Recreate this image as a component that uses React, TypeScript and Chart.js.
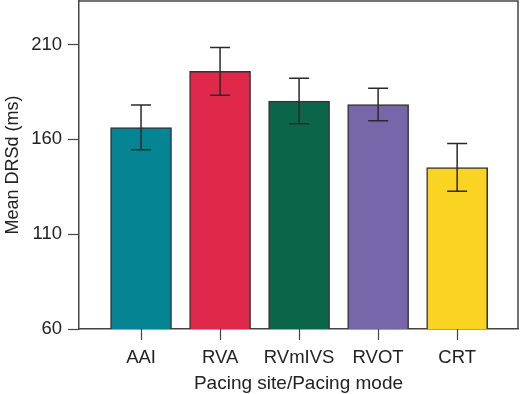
import React, { useEffect, useRef } from "react";
import { Chart, registerables } from "chart.js";

Chart.register(...registerables);

const categories = ["AAI", "RVA", "RVmIVS", "RVOT", "CRT"];
const means = [166.3, 195.9, 180.2, 178.4, 145.2];
const errors = [11.8, 12.6, 12.0, 8.6, 12.6];
const colors = ["#058594", "#E0294A", "#0B6548", "#7866AB", "#FBD322"];
const yTicks = [60, 110, 160, 210];

const FONT = "'Liberation Sans', Arial, Helvetica, sans-serif";

const framePlugin = {
  id: "frame",
  afterDatasetsDraw(chart: any) {
    const { ctx, chartArea } = chart;
    const xs = chart.scales.x;
    ctx.save();
    ctx.strokeStyle = "#444";
    ctx.lineWidth = 1.5;
    ctx.beginPath();
    ctx.moveTo(chartArea.left, chartArea.top);
    ctx.lineTo(chartArea.right, chartArea.top);
    ctx.lineTo(chartArea.right, chartArea.bottom);
    ctx.stroke();
    // x-axis category tick marks
    ctx.lineWidth = 1.2;
    ctx.beginPath();
    categories.forEach((_, i) => {
      const x = Math.round(xs.getPixelForValue(i)) + 0.5;
      ctx.moveTo(x, chartArea.bottom);
      ctx.lineTo(x, chartArea.bottom + 11);
    });
    ctx.stroke();
    ctx.restore();
  },
};

const errorBarPlugin = {
  id: "errorBars",
  afterDatasetsDraw(chart: any) {
    const { ctx } = chart;
    const xs = chart.scales.x;
    const ys = chart.scales.y;
    ctx.save();
    ctx.strokeStyle = "#2a2a2a";
    ctx.lineWidth = 1.5;
    means.forEach((m, i) => {
      const x = xs.getPixelForValue(i);
      const yt = ys.getPixelForValue(m + errors[i]);
      const yb = ys.getPixelForValue(m - errors[i]);
      const cap = 10;
      ctx.beginPath();
      ctx.moveTo(x, yt);
      ctx.lineTo(x, yb);
      ctx.moveTo(x - cap, yt);
      ctx.lineTo(x + cap, yt);
      ctx.moveTo(x - cap, yb);
      ctx.lineTo(x + cap, yb);
      ctx.stroke();
    });
    ctx.restore();
  },
};

export default function App() {
  const ref = useRef<HTMLCanvasElement | null>(null);
  useEffect(() => {
    if (!ref.current) return;
    const chart = new Chart(ref.current, {
      type: "bar",
      data: {
        datasets: [
          {
            data: means.map((v, i) => ({ x: i, y: v })),
            backgroundColor: colors,
            borderColor: "#333",
            borderWidth: 1.5,
            borderSkipped: false,
            barThickness: 61,
          } as any,
        ],
      },
      plugins: [framePlugin, errorBarPlugin],
      options: {
        animation: false,
        responsive: false,
        maintainAspectRatio: false,
        layout: { padding: { top: 1, right: 2, left: 0, bottom: 0 } },
        plugins: { legend: { display: false }, tooltip: { enabled: false } },
        scales: {
          x: {
            type: "linear",
            min: -0.785,
            max: 4.77,
            offset: false,
            grid: {
              display: false,
            },
            border: { display: true, color: "#444", width: 1.5 },
            afterBuildTicks: (axis: any) => {
              axis.ticks = categories.map((_, i) => ({ value: i }));
            },
            afterFit: (axis: any) => {
              axis.height = 65;
              axis.paddingLeft = 0;
              axis.paddingRight = 0;
            },
            ticks: {
              autoSkip: false,
              maxRotation: 0,
              padding: 10,
              color: "#222",
              font: { family: FONT, size: 18.5 },
              callback: (v: any) => categories[v as number] ?? "",
            },
            title: {
              display: true,
              text: "Pacing site/Pacing mode",
              color: "#222",
              font: { family: FONT, size: 19, lineHeight: 1.1 },
              padding: { top: 0, bottom: 0 },
            },
          },
          y: {
            type: "linear",
            min: 60,
            max: 233,
            grid: {
              display: true,
              drawOnChartArea: false,
              drawTicks: true,
              tickLength: 11,
              tickColor: "#444",
              tickWidth: 1.2,
            },
            border: { display: true, color: "#444", width: 1.5 },
            afterBuildTicks: (axis: any) => {
              axis.ticks = yTicks.map((v) => ({ value: v }));
            },
            afterFit: (axis: any) => {
              axis.width = 79;
              axis.paddingTop = 0;
              axis.paddingBottom = 0;
            },
            ticks: {
              padding: 6,
              color: "#222",
              font: { family: FONT, size: 18.5 },
            },
            title: {
              display: true,
              text: "Mean DRSd (ms)",
              color: "#222",
              font: { family: FONT, size: 18 },
              padding: { top: 2, bottom: 0 },
            },
          },
        },
      },
    });
    return () => chart.destroy();
  }, []);
  return (
    <div style={{ position: "fixed", left: 0, top: 0, width: 520, height: 394, background: "#fff" }}>
      <canvas ref={ref} width={520} height={394} style={{ display: "block", width: 520, height: 394 }} />
    </div>
  );
}
